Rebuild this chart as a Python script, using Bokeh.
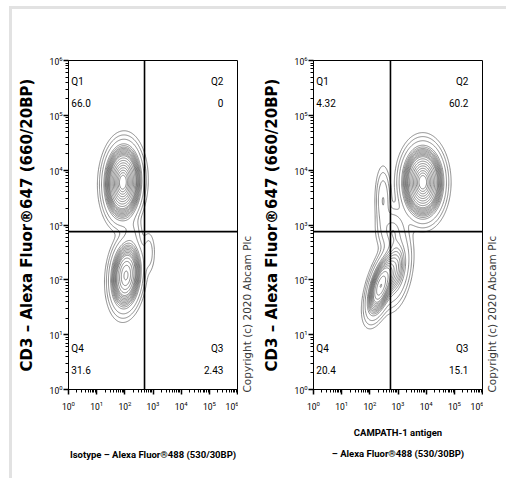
import numpy as np
from bokeh.plotting import figure
from bokeh.layouts import row
from bokeh.models import Span, Label, FixedTicker, Title
from bokeh.embed import file_html
from bokeh.resources import INLINE

# ---------------- data ----------------
decades = [0, 1, 2, 3, 4, 5, 6]
major_ticks = [10 ** d for d in decades]
minor_ticks = [m * 10 ** d for d in decades[:-1] for m in range(2, 10)]

y_label = "CD3 \u2013 Alexa Fluor\u00ae647 (660/20BP)"
p1_x_label = "Isotype \u2013 Alexa Fluor\u00ae488 (530/30BP)"
p2_x_label = ["CAMPATH-1 antigen", "\u2013 Alexa Fluor\u00ae488 (530/30BP)"]
copyright_text = "Copyright (c) 2020 Abcam Plc"

quad_names = ["Q1", "Q2", "Q3", "Q4"]
p1_quad_pct = ["66.0", "0", "2.43", "31.6"]
p2_quad_pct = ["4.32", "60.2", "15.1", "20.4"]

# quadrant gates (fluorescence units)
p1_gate = (500, 760)
p2_gate = (540, 760)

# cell populations (log10 units): centre x, centre y, sd x, sd y, correlation, weight
p1_cx = [1.93, 2.04, 2.85, 2.25]
p1_cy = [3.78, 2.08, 2.50, 2.88]
p1_sx = [0.27, 0.24, 0.12, 0.18]
p1_sy = [0.28, 0.27, 0.20, 0.16]
p1_rho = [0.05, 0.15, 0.0, 0.0]
p1_w = [0.64, 0.31, 0.003, 0.004]

p2_cx = [3.88, 2.47, 2.38, 2.90, 2.80]
p2_cy = [3.78, 3.45, 1.88, 2.20, 2.90]
p2_sx = [0.30, 0.13, 0.22, 0.25, 0.25]
p2_sy = [0.27, 0.28, 0.25, 0.30, 0.20]
p2_rho = [0.0, 0.0, 0.55, 0.3, 0.0]
p2_w = [0.60, 0.012, 0.15, 0.07, 0.02]

# contour radii (in sd units) that set the contour levels
contour_r = ([0.45, 0.62, 0.78, 0.94, 1.1, 1.26, 1.42, 1.58]
             + [1.72, 1.8, 1.88, 1.96, 2.04, 2.12, 2.2, 2.28, 2.38, 2.5]
             + [2.8, 3.08, 3.35])


def density(cx, cy, sx, sy, rho, w, gx, gy):
    X, Y = np.meshgrid(gx, gy)
    z = np.zeros_like(X)
    for mx, my, ax, ay, r, wt in zip(cx, cy, sx, sy, rho, w):
        dx = (X - mx) / ax
        dy = (Y - my) / ay
        q = (dx * dx - 2 * r * dx * dy + dy * dy) / (1 - r * r)
        z += wt / (2 * np.pi * ax * ay * np.sqrt(1 - r * r)) * np.exp(-0.5 * q)
    return z


NARROW = "Roboto"
H = 461
TOP = 51
BOTTOM = 81


def copyright_title():
    return Title(text=copyright_text, align="left", text_font="DejaVu Sans",
                 text_font_size="10.5px", text_font_style="normal",
                 text_color="#3a3a3a", standoff=0, offset=-3)


def make_panel(pct, gate, comps, width, left, right):
    p = figure(width=width, height=H, x_axis_type="log", y_axis_type="log",
               x_range=(1, 1e6), y_range=(1, 1e6),
               output_backend="svg", toolbar_location=None,
               min_border_left=left, min_border_right=right,
               min_border_top=TOP, min_border_bottom=BOTTOM)
    p.background_fill_color = "white"
    p.border_fill_color = "white"
    p.outline_line_color = "black"
    p.outline_line_width = 1
    p.grid.visible = False

    gx = np.linspace(-0.2, 6.2, 330)
    gy = np.linspace(-0.2, 6.2, 330)
    z = density(*comps, gx, gy)
    levels = sorted(z.max() * np.exp(-0.5 * np.array(contour_r) ** 2))
    p.contour(10 ** gx, 10 ** gy, z, levels, line_color="#5a5a5a", line_width=0.7)

    p.add_layout(Span(location=gate[0], dimension="height", line_color="black", line_width=1.6))
    p.add_layout(Span(location=gate[1], dimension="width", line_color="black", line_width=1.8))

    for ax in (p.xaxis, p.yaxis):
        ax.ticker = FixedTicker(ticks=major_ticks, minor_ticks=minor_ticks)
        ax.major_tick_out = 5
        ax.major_tick_in = 0
        ax.minor_tick_out = 3
        ax.minor_tick_in = 0
        ax.major_tick_line_width = 1.5
        ax.axis_line_color = "black"
        ax.major_label_text_font = NARROW
        ax.major_label_text_font_size = "8.5px"
        ax.major_label_text_color = "black"
        ax.axis_label_text_color = "black"
        ax.axis_label_text_font_style = "bold"

    p.xaxis.major_label_standoff = 6
    p.yaxis.major_label_standoff = 1
    p.yaxis.axis_label = y_label
    p.yaxis.axis_label_text_font = "DejaVu Sans"
    p.yaxis.axis_label_text_font_size = "15px"
    p.yaxis.axis_label_standoff = 11
    p.xaxis.axis_label_text_font = NARROW
    p.xaxis.axis_label_text_font_size = "9.5px"

    lx_left, lx_right = 10 ** 0.1, 10 ** 5.5
    y_top_name, y_top_val = 10 ** 5.62, 10 ** 5.22
    y_bot_name, y_bot_val = 10 ** 0.74, 10 ** 0.36
    spots = [
        (lx_left, y_top_name, quad_names[0], "left"),
        (lx_left, y_top_val, pct[0], "left"),
        (lx_right, y_top_name, quad_names[1], "right"),
        (lx_right, y_top_val, pct[1], "right"),
        (lx_right, y_bot_name, quad_names[2], "right"),
        (lx_right, y_bot_val, pct[2], "right"),
        (lx_left, y_bot_name, quad_names[3], "left"),
        (lx_left, y_bot_val, pct[3], "left"),
    ]
    for x, y, t, al in spots:
        p.add_layout(Label(x=x, y=y, text=t, text_font=NARROW, text_font_size="10px",
                           text_align=al, text_baseline="middle", text_color="black"))
    return p


# panel 1: canvas x 12..238, frame 68..237
p1 = make_panel(p1_quad_pct, p1_gate, (p1_cx, p1_cy, p1_sx, p1_sy, p1_rho, p1_w), 226, 56, 1)
p1.xaxis.axis_label = p1_x_label
p1.xaxis.axis_label_standoff = 36

# panel 2: canvas x 238..483, frame 313..482
p2 = make_panel(p2_quad_pct, p2_gate, (p2_cx, p2_cy, p2_sx, p2_sy, p2_rho, p2_w), 245, 75, 1)
p2.xaxis.axis_label = p2_x_label[0]
p2.xaxis.axis_label_standoff = 14
p2.add_layout(Title(text=p2_x_label[1], align="center", text_font=NARROW,
                    text_font_size="9.5px", text_font_style="bold", text_color="black",
                    standoff=10), "below")
# small blank gap, then the copyright note belonging to panel 1
p2.add_layout(Title(text=" ", text_font_size="4px", standoff=0), "left")
p2.add_layout(copyright_title(), "left")

# strip holding panel 2's copyright note
p3 = figure(width=23, height=H, output_backend="svg", toolbar_location=None,
            x_axis_location=None, y_axis_location=None,
            min_border_left=0, min_border_right=0,
            min_border_top=TOP, min_border_bottom=BOTTOM)
p3.outline_line_color = None
p3.grid.visible = False
p3.add_layout(copyright_title(), "left")

layout = row(p1, p2, p3, styles={"margin-top": "6px", "margin-left": "9px",
                                  "border-top": "3px solid #e2e2e2",
                                  "border-left": "3px solid #e2e2e2",
                                  "padding-bottom": "8px"})
open("out.html", "w").write(file_html(layout, INLINE))
